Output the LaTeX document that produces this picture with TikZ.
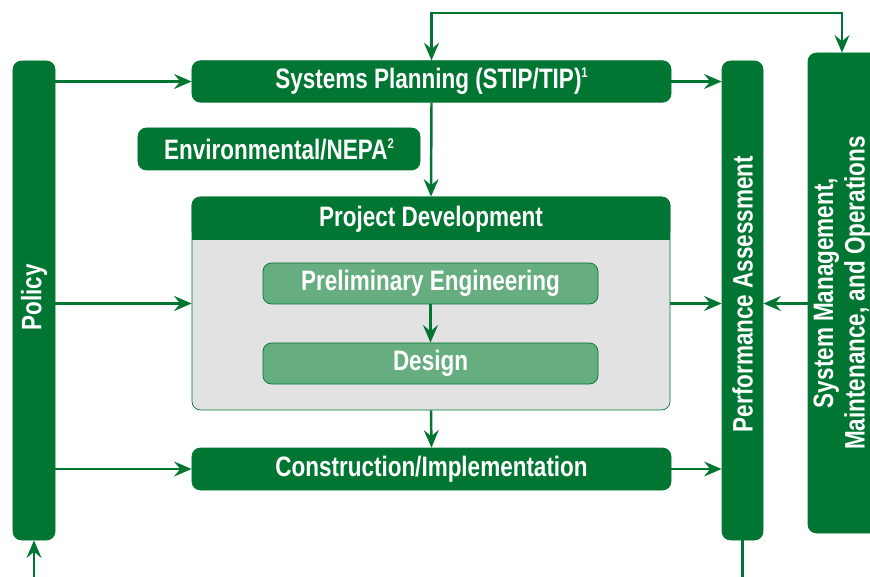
\documentclass[tikz,border=0pt]{standalone}
\usepackage{fontspec}
\setmainfont{Liberation Sans}[FakeStretch=0.8]
\usetikzlibrary{arrows.meta, positioning, calc}

\definecolor{colorBar}{RGB}{0, 118, 50}
\definecolor{colorSub}{RGB}{102, 173, 128}
\definecolor{colorPanel}{RGB}{226, 226, 226}

\newcommand{\fnmark}[1]{\raisebox{0.75ex}{\fontsize{8}{8}\selectfont #1}}

\tikzstyle{stage} = [rectangle, rounded corners=1.7mm, minimum width=95.8mm, minimum height=8.3mm, text centered, text=white, draw=colorBar, fill=colorBar]
\tikzstyle{bar} = [rectangle, rounded corners=1.7mm, minimum width=8.3mm, minimum height=95.8mm, draw=colorBar, fill=colorBar]
\tikzstyle{bartext} = [rotate=90, text=white, align=center]
\tikzstyle{substage} = [rectangle, rounded corners=1.7mm, minimum width=67mm, minimum height=8.2mm, text centered, text=white, draw=colorBar, fill=colorSub]
\tikzstyle{panel} = [rectangle, rounded corners=1.7mm, minimum width=95.6mm, minimum height=42.6mm, draw=colorBar, fill=colorPanel]
\tikzstyle{arrow} = [->, >={Stealth[length=10pt, width=8.5pt, inset=3.5pt]}, line width=1.4pt, draw=colorBar]
\tikzstyle{link} = [line width=1.4pt, draw=colorBar]

\begin{document}
\begin{tikzpicture}[x=0.2mm, y=-0.2mm, font=\fontsize{16}{18}\selectfont\bfseries]

	\clip (0,0) rectangle (870,577);

	% left and right bars
	\node (policy)[bar, minimum width=8.4mm] at (34,300.5) {};
	\node (policyText)[bartext] at (34,297.5) {Policy};

	\node (perf)[bar, minimum width=8.2mm] at (742.5,300.5) {};
	\node (perfText)[bartext] at (742.5,294) {Performance Assessment};

	\node (sysmgmt)[bar, minimum width=15.2mm, minimum height=96mm] at (846,293) {};
	\node (sysmgmtText)[bartext] at (842,293) {System Management,\\Maintenance, and Operations};

	% stages
	\node (planning)[stage] at (431.5,81.5) {Systems Planning (STIP/TIP)\fnmark{1}};
	\node (nepa)[stage, minimum width=56.4mm, minimum height=8.4mm] at (279,149) {Environmental/NEPA\fnmark{2}};

	\node (devel)[panel] at (431,303.5) {};
	\fill[colorBar, rounded corners=1.7mm] (devel.north west) rectangle ($(devel.north east)+(0,43)$);
	\fill[colorBar] ($(devel.north west)+(0,20)$) rectangle ($(devel.north east)+(0,43)$);
	\node (develTitle)[text=white] at (431,219) {Project Development};

	\node (prelim)[substage] at (430.5,283.5) {Preliminary Engineering};
	\node (design)[substage] at (430.5,363.5) {Design};

	\node (constr)[stage, minimum height=8.4mm] at (431.5,469) {Construction/Implementation};

	% free ends
	\coordinate (loopR) at (842,13);
	\coordinate (policyIn) at (34,577);
	\coordinate (perfOut) at (742.5,577);

	% lines and arrows
	\draw[arrow] (policy.east |- planning.west) -- (planning.west);
	\draw[arrow] (policy.east |- devel.west) -- (devel.west);
	\draw[arrow] (policy.east |- constr.west) -- (constr.west);

	\draw[arrow] (planning.east) -- (perf.west |- planning.east);
	\draw[arrow] (devel.east) -- (perf.west |- devel.east);
	\draw[arrow] (constr.east) -- (perf.west |- constr.east);
	\draw[arrow] (sysmgmt.west |- devel.east) -- (perf.east |- devel.east);

	\draw[arrow] (planning.south) -- (devel.north);
	\draw[arrow] (prelim.south) -- (design.north);
	\draw[arrow] (devel.south) -- (constr.north);

	\draw[arrow, <->] (planning.north) |- (loopR) -- (loopR |- sysmgmt.north);

	\draw[arrow] (policyIn) -- (policy.south);
	\draw[link] (perf.south) -- (perfOut);

\end{tikzpicture}
\end{document}
